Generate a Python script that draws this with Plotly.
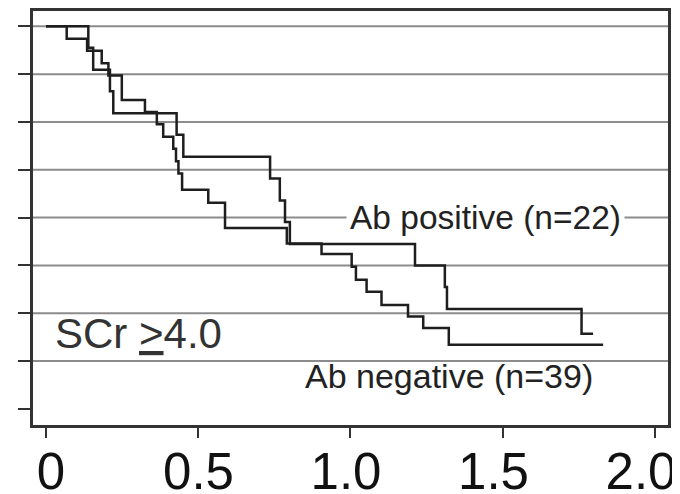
import plotly.graph_objects as go

# Kaplan-Meier style step data (time in years, survival fraction)
pos_time = [0, 0.139, 0.155, 0.210, 0.221, 0.429, 0.451, 0.736, 0.768, 0.785, 0.801,
            1.212, 1.310, 1.317, 1.759, 1.797]
pos_surv = [1.0, 0.955, 0.909, 0.864, 0.818, 0.773, 0.727, 0.682, 0.636, 0.591, 0.545,
            0.500, 0.455, 0.409, 0.357, 0.357]

neg_time = [0, 0.068, 0.135, 0.183, 0.205, 0.249, 0.325, 0.364, 0.385, 0.418, 0.427,
            0.435, 0.447, 0.533, 0.588, 0.791, 0.905, 1.004, 1.018, 1.053, 1.102,
            1.189, 1.239, 1.323, 1.830]
neg_surv = [1.0, 0.974, 0.949, 0.923, 0.897, 0.846, 0.821, 0.795, 0.769, 0.744, 0.718,
            0.692, 0.658, 0.631, 0.578, 0.546, 0.524, 0.497, 0.470, 0.445, 0.417,
            0.393, 0.369, 0.334, 0.334]

x_tick_vals = [0, 0.5, 1.0, 1.5, 2.0]
x_tick_text = ["0", "0.5", "1.0", "1.5", "2.0"]
y_tick_vals = [0.2, 0.3, 0.4, 0.5, 0.6, 0.7, 0.8, 0.9, 1.0]
grid_vals = [0.3, 0.4, 0.5, 0.6, 0.7, 0.8, 0.9, 1.0]

label_pos = "Ab positive (n=22)"
label_neg = "Ab negative (n=39)"
label_group = "SCr <u>&gt;</u>4.0"

line_col = "#1e1e1e"
grid_col = "#8c8c8c"
font_family = "Liberation Sans, Arial, sans-serif"

fig = go.Figure()
fig.add_trace(go.Scatter(x=pos_time, y=pos_surv, mode="lines", line_shape="hv",
                         line=dict(color=line_col, width=2.5), name=label_pos))
fig.add_trace(go.Scatter(x=neg_time, y=neg_surv, mode="lines", line_shape="hv",
                         line=dict(color=line_col, width=2.5), name=label_neg))
# empty trace that activates the label axis (draws nothing)
fig.add_trace(go.Scatter(x=x_tick_vals, y=[None] * len(x_tick_vals), mode="lines",
                         xaxis="x2", yaxis="y", hoverinfo="skip", showlegend=False))

shapes = []
for g in grid_vals:
    shapes.append(dict(type="line", xref="paper", x0=0, x1=1, yref="y", y0=g, y1=g,
                       line=dict(color=grid_col, width=2), layer="below"))

annotations = [
    dict(x=1.442, y=0.6, xref="x", yref="y", text=label_pos, showarrow=False,
         font=dict(size=33.5, color="#222", family=font_family),
         bgcolor="white", borderpad=3, xanchor="center", yanchor="middle"),
    dict(x=1.323, y=0.269, xref="x", yref="y", text=label_neg, showarrow=False,
         font=dict(size=34, color="#222", family=font_family),
         xanchor="center", yanchor="middle"),
    dict(x=0.023, y=0.357, xref="x", yref="y", text=label_group, showarrow=False,
         font=dict(size=42, color="#333", family=font_family),
         xanchor="left", yanchor="middle"),
]

fig.update_layout(
    width=672, height=486,
    margin=dict(l=25, r=12, t=3, b=69, pad=0, autoexpand=False),
    paper_bgcolor="white", plot_bgcolor="white",
    showlegend=False,
    shapes=shapes,
    annotations=annotations,
    font=dict(family=font_family, color="#111"),
    xaxis=dict(range=[-0.0427, 2.043], tickvals=x_tick_vals, showticklabels=False,
               ticks="outside", ticklen=10, tickwidth=2, tickcolor="#333",
               showline=True, linecolor="#333", linewidth=2.5, mirror=True,
               showgrid=False, zeroline=False, automargin=False),
    # label axis: the printed labels sit slightly tighter than the tick marks
    xaxis2=dict(overlaying="x", anchor="y", side="bottom",
                range=[-0.061, 2.0915], tickvals=x_tick_vals, ticktext=x_tick_text,
                ticks="outside", ticklen=10, tickwidth=0, tickcolor="rgba(0,0,0,0)",
                showline=False, showgrid=False, zeroline=False, automargin=False,
                ticklabeloverflow="allow", ticklabelstandoff=-8,
                tickfont=dict(size=51, color="#111", family=font_family)),
    yaxis=dict(range=[0.1663, 1.032], tickvals=y_tick_vals, showticklabels=False,
               ticks="outside", ticklen=12, tickwidth=2, tickcolor="#333",
               showline=True, linecolor="#333", linewidth=2.5, mirror=True,
               showgrid=False, zeroline=False, automargin=False),
)

fig.write_html("out.html")
